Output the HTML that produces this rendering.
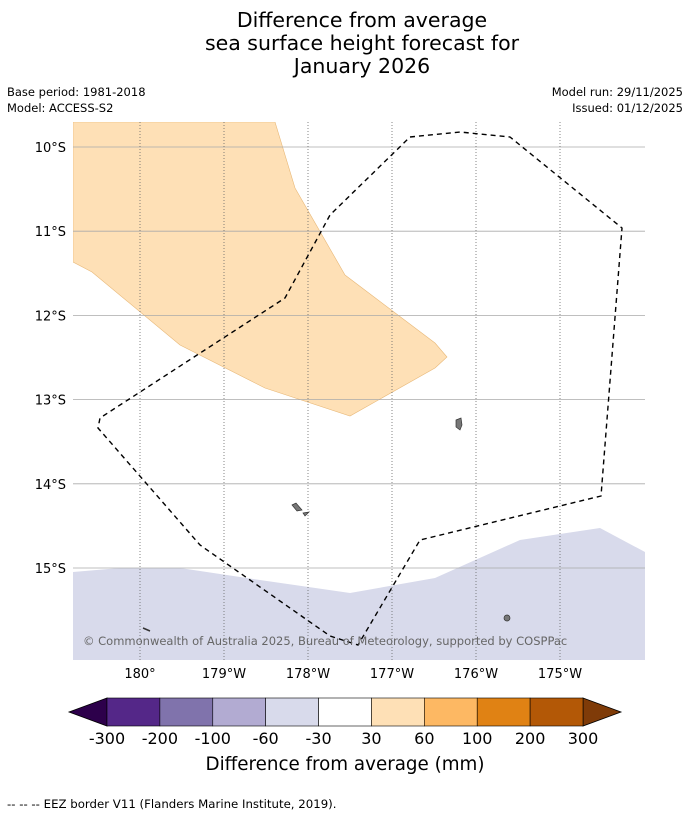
<!DOCTYPE html>
<html><head><meta charset="utf-8">
<style>
body{margin:0;background:#fff;width:690px;height:816px;overflow:hidden;font-family:"DejaVu Sans","Liberation Sans",sans-serif;}
svg{display:block}
</style></head>
<body>
<svg width="690" height="816" viewBox="0 0 690 816" font-family="DejaVu Sans, Liberation Sans, sans-serif">
<text x="362" y="27" text-anchor="middle" font-size="20.5">Difference from average</text>
<text x="362" y="50" text-anchor="middle" font-size="20.5">sea surface height forecast for</text>
<text x="362" y="73" text-anchor="middle" font-size="20.5">January 2026</text>
<text x="7" y="96" font-size="11.5">Base period: 1981-2018</text>
<text x="7" y="112" font-size="11.5">Model: ACCESS-S2</text>
<text x="683" y="96" font-size="11.5" text-anchor="end">Model run: 29/11/2025</text>
<text x="683" y="112" font-size="11.5" text-anchor="end">Issued: 01/12/2025</text>
<defs><clipPath id="mapclip"><rect x="73" y="122" width="572" height="538"/></clipPath></defs>
<g id="map" clip-path="url(#mapclip)">
<polygon points="73,122 275,122 295,188 345,275 435,343 447,357 435,368 350,416 265,388 180,345 92,272 73,262" fill="#fee0b6" stroke="#e8b878" stroke-width="0.6"/>
<polygon points="73,572 120,568 180,568 260,580 350,593 435,578 520,540 600,528 645,552 645,660 73,660" fill="#d8daeb"/>
<g id="grid"></g>
<path d="M456,420 L461,418 L462,425 L460,430 L456,427 Z" fill="#777" stroke="#333" stroke-width="0.7"/>
<path d="M292,505 L296,503 L302,510 L297,511 Z M303,513 L309,512 L305,516 Z" fill="#777" stroke="#333" stroke-width="0.7"/>
<circle cx="507" cy="618" r="3" fill="#777" stroke="#333" stroke-width="0.7"/>
<path d="M143,628 L150,631" stroke="#333" stroke-width="1.5"/>
<polyline points="410,137 460,132 510,137 622,228 601,496 420,540 358,645 330,636 200,545 98,428 100,418 285,298 330,215 410,137" fill="none" stroke="#000" stroke-width="1.4" stroke-dasharray="5,4"/>
<text x="83" y="645" font-size="11.5" fill="#666">© Commonwealth of Australia 2025, Bureau of Meteorology, supported by COSPPac</text>
</g>
<g id="axes"></g>
<g id="cbar"></g>
<text x="345" y="770" text-anchor="middle" font-size="18.3">Difference from average (mm)</text>
<text x="7" y="808" font-size="11.75">--  --  -- EEZ border V11 (Flanders Marine Institute, 2019).</text>
</svg>
<script>
const lonTicks=[180,181,182,183,184,185];
const lonLabels=["180°","179°W","178°W","177°W","176°W","175°W"];
const latTicks=[10,11,12,13,14,15];
const latLabels=["10°S","11°S","12°S","13°S","14°S","15°S"];
const cbarBounds=[-300,-200,-100,-60,-30,30,60,100,200,300];
const cbarColors=["#542788","#8073ac","#b2abd2","#d8daeb","#ffffff","#fee0b6","#fdb863","#e08214","#b35806"];
const cbarUnder="#2d004b", cbarOver="#7f3b08";
const NS="http://www.w3.org/2000/svg";
function xLon(l){return 140+(l-180)*84;}
function yLat(l){return 147+(l-10)*84.2;}
function mk(tag,attrs,parent){const e=document.createElementNS(NS,tag);for(const k in attrs)e.setAttribute(k,attrs[k]);parent.appendChild(e);return e;}
const grid=document.getElementById('grid'),axes=document.getElementById('axes'),cb=document.getElementById('cbar');
latTicks.forEach((v,i)=>{const y=yLat(v);
 const l=mk('line',{x1:73,x2:645,y1:y,y2:y,stroke:'#aaa','stroke-width':0.8},grid);
 
 
 const t=mk('text',{x:66,y:y+5,'text-anchor':'end','font-size':13},axes);t.textContent=latLabels[i];
 
 });
lonTicks.forEach((v,i)=>{const x=xLon(v);
 const l=mk('line',{x1:x,x2:x,y1:122,y2:660,stroke:'#666','stroke-width':0.8,'stroke-dasharray':'1,2'},grid);
 
 
 const t=mk('text',{x:x,y:678,'text-anchor':'middle','font-size':13},axes);t.textContent=lonLabels[i];
 
 });
const cx0=107,cx1=583,cy0=698,cy1=726,n=cbarColors.length,w=(cx1-cx0)/n;
const lt=mk('polygon',{points:`${cx0},${cy0} 69,${(cy0+cy1)/2} ${cx0},${cy1}`,fill:cbarUnder,stroke:'#000','stroke-width':0.8},cb);


const rt=mk('polygon',{points:`${cx1},${cy0} 621,${(cy0+cy1)/2} ${cx1},${cy1}`,fill:cbarOver,stroke:'#000','stroke-width':0.8},cb);


cbarColors.forEach((c,i)=>{const r=mk('rect',{x:cx0+i*w,y:cy0,width:w,height:cy1-cy0,fill:c,stroke:'#000','stroke-width':0.6},cb);
 
 });
cbarBounds.forEach((b,i)=>{const t=mk('text',{x:cx0+i*w,y:744,'text-anchor':'middle','font-size':16},cb);t.textContent=b;
 
 });
</script>
</body></html>
